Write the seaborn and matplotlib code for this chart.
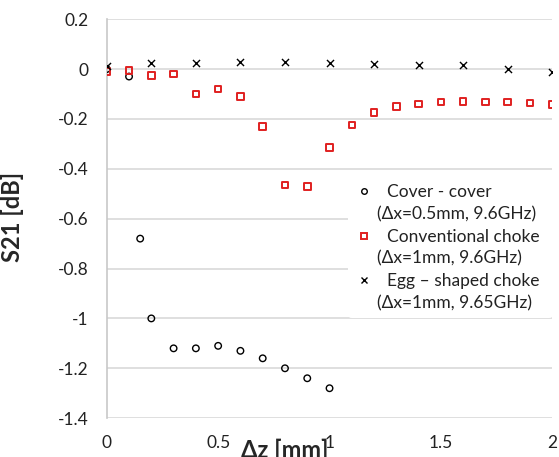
import numpy as np
import pandas as pd
import matplotlib
matplotlib.use("Agg")
import matplotlib.pyplot as plt
import seaborn as sns
from matplotlib.lines import Line2D

# Data
cover_dz = [0, 0.1, 0.15, 0.2, 0.3, 0.4, 0.5, 0.6, 0.7, 0.8, 0.9, 1.0]
cover_s21 = [0.0, -0.03, -0.68, -1.0, -1.12, -1.12, -1.11, -1.13, -1.16, -1.2, -1.24, -1.28]

conv_dz = [0, 0.1, 0.2, 0.3, 0.4, 0.5, 0.6, 0.7, 0.8, 0.9, 1.0,
           1.1, 1.2, 1.3, 1.4, 1.5, 1.6, 1.7, 1.8, 1.9, 2.0]
conv_s21 = [-0.01, -0.005, -0.025, -0.02, -0.1, -0.08, -0.11, -0.23, -0.465, -0.47, -0.315,
            -0.225, -0.175, -0.15, -0.14, -0.132, -0.13, -0.132, -0.132, -0.137, -0.142]

egg_dz = [0, 0.2, 0.4, 0.6, 0.8, 1.0, 1.2, 1.4, 1.6, 1.8, 2.0]
egg_s21 = [0.012, 0.025, 0.025, 0.03, 0.027, 0.025, 0.022, 0.018, 0.015, 0.0, -0.01]

labels_first = ["Cover - cover", "Conventional choke", "Egg \u2013 shaped choke"]
labels_second = ["(\u0394x=0.5mm, 9.6GHz)", "(\u0394x=1mm, 9.6GHz)", "(\u0394x=1mm, 9.65GHz)"]

sns.set_style("white")
plt.rcParams['font.family'] = ['Lato', 'DejaVu Sans']

fig = plt.figure(figsize=(5.59, 4.57), dpi=100)
ax = fig.add_axes([0.191, 0.085, 0.797, 0.873])

cover = pd.DataFrame({"dz": cover_dz, "s21": cover_s21})
conv = pd.DataFrame({"dz": conv_dz, "s21": conv_s21})
egg = pd.DataFrame({"dz": egg_dz, "s21": egg_s21})

sns.scatterplot(data=cover, x="dz", y="s21", ax=ax, marker="o", s=22,
                facecolors="none", edgecolor="black", linewidth=1.0, zorder=3)
sns.scatterplot(data=conv, x="dz", y="s21", ax=ax, marker="s", s=22,
                facecolors="none", edgecolor="#e02020", linewidth=1.4, zorder=3)
sns.scatterplot(data=egg, x="dz", y="s21", ax=ax, marker="x", s=26,
                color="black", linewidth=1.0, zorder=3)

ax.set_xlim(0, 2)
ax.set_ylim(-1.4, 0.2)
ax.set_xticks([0, 0.5, 1, 1.5, 2])
ax.set_xticklabels(["0", "0.5", "1", "1.5", "2"])
ax.set_yticks(np.round(np.arange(-1.4, 0.21, 0.2), 1))
ax.set_yticklabels(["-1.4", "-1.2", "-1", "-0.8", "-0.6", "-0.4", "-0.2", "0", "0.2"])
ax.grid(axis="y", color="#d9d9d9", linewidth=1.2)
ax.set_axisbelow(True)
for side in ["top", "right", "bottom"]:
    ax.spines[side].set_visible(False)
ax.spines["left"].set_color("#c8c8c8")
ax.spines["left"].set_linewidth(1.2)
ax.tick_params(axis="both", which="both", direction="out", length=5, width=1.2,
               color="#d0d0d0", labelsize=12.5, labelcolor="#222222")
ax.tick_params(axis="y", pad=8)
ax.tick_params(axis="x", pad=7)
ax.set_xlabel("")
ax.set_ylabel("S21 [dB]", fontsize=17, fontweight="bold", labelpad=14)
ax.yaxis.set_label_coords(-0.185, 0.505)
fig.text(0.51, -0.01, "\u0394z [mm]", fontsize=17, fontweight="bold", ha="center", va="bottom")

# legend: marker on first line, second line without marker
blank = Line2D([], [], linestyle="none", marker=None)
handles = [
    Line2D([], [], linestyle="none", marker="o", markersize=4, markerfacecolor="none",
           markeredgecolor="black", markeredgewidth=1.0),
    blank,
    Line2D([], [], linestyle="none", marker="s", markersize=4, markerfacecolor="none",
           markeredgecolor="#e02020", markeredgewidth=1.4),
    blank,
    Line2D([], [], linestyle="none", marker="x", markersize=4.5, color="black",
           markeredgewidth=1.0),
    blank,
]
labels = [labels_first[0], labels_second[0], labels_first[1], labels_second[1],
          labels_first[2], labels_second[2]]
leg = ax.legend(handles, labels, loc="upper left", bbox_to_anchor=(0.523, 0.625),
                frameon=True, fontsize=12.5, handlelength=1.0, handletextpad=0.8,
                labelspacing=0.35, borderpad=0.4, framealpha=1.0)
leg.get_frame().set_edgecolor("white")
leg.get_frame().set_linewidth(0)
for i, t in enumerate(leg.get_texts()):
    t.set_color("#222222")
    if i % 2 == 1:
        t.set_x(-10)

fig.savefig("out.png", dpi=100)
